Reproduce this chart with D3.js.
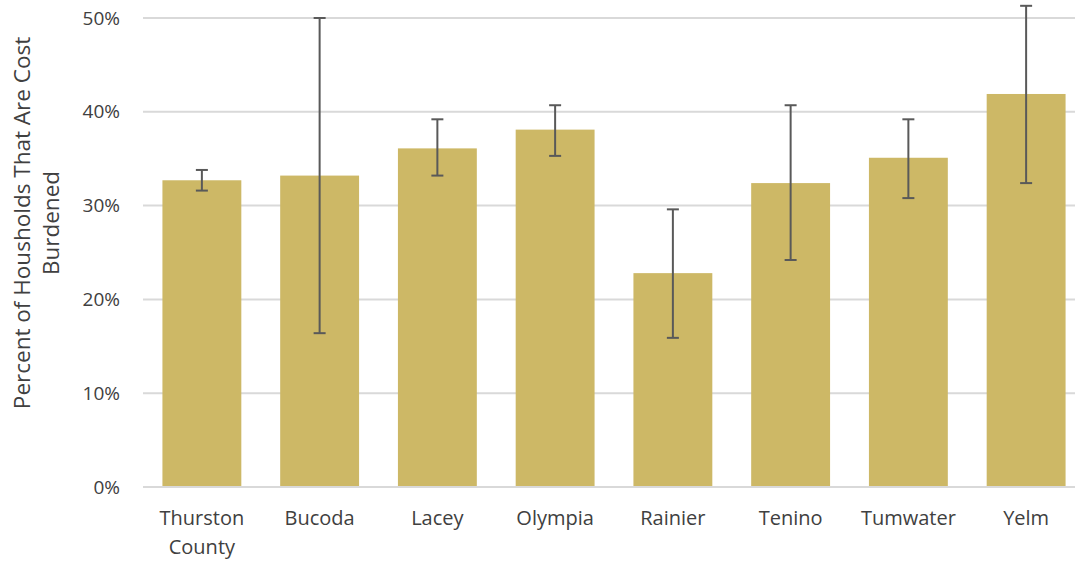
<!DOCTYPE html>
<html><head><meta charset="utf-8">
<script src="https://cdn.jsdelivr.net/npm/d3@7"></script>
<style>
html,body{margin:0;padding:0;background:#fff;}
svg text{font-family:"Open Sans",sans-serif;font-weight:400;fill:#404040;}
</style></head>
<body><svg id="c" width="1075" height="561"></svg>
<script>
const categories = ["Thurston County","Bucoda","Lacey","Olympia","Rainier","Tenino","Tumwater","Yelm"];
const values = [0.327,0.332,0.361,0.381,0.228,0.324,0.351,0.419];
const errLow = [0.316,0.164,0.332,0.353,0.159,0.242,0.308,0.324];
const errHigh = [0.338,0.500,0.392,0.407,0.296,0.407,0.392,0.513];
const yTicks = [0,0.1,0.2,0.3,0.4,0.5];
const yTitle = ["Percent of Housholds That Are Cost","Burdened"];

(function(){
const svg = d3.select("#c");
const pL = 143, pR = 1085, pT = 18, pB = 487;
const x = d3.scaleBand().domain(categories).range([pL,pR]).paddingInner(0.33).paddingOuter(0.165);
const y = d3.scaleLinear().domain([0,0.5]).range([pB,pT]);

// gridlines
svg.append("g").selectAll("line").data(yTicks).join("line")
  .attr("x1",pL).attr("x2",pR)
  .attr("y1",d=>y(d)).attr("y2",d=>y(d))
  .attr("stroke","#d9d9d9").attr("stroke-width",2);

// y tick labels
svg.append("g").selectAll("text").data(yTicks).join("text")
  .attr("x",120).attr("y",d=>y(d)).attr("dy","0.35em")
  .attr("text-anchor","end").attr("font-size",19)
  .text(d=>d3.format(".0%")(d));

// bars
svg.append("g").selectAll("rect").data(categories).join("rect")
  .attr("x",d=>x(d)).attr("width",x.bandwidth())
  .attr("y",(d,i)=>y(values[i])).attr("height",(d,i)=>y(0)-y(values[i]))
  .attr("fill","#cdb866");

// baseline over bars
svg.append("line").attr("x1",pL).attr("x2",pR).attr("y1",y(0)).attr("y2",y(0))
  .attr("stroke","#d9d9d9").attr("stroke-width",2);

// error bars
const eb = svg.append("g").attr("stroke","#595959").attr("stroke-width",2);
categories.forEach((c,i)=>{
  const cx = x(c)+x.bandwidth()/2;
  eb.append("line").attr("x1",cx).attr("x2",cx).attr("y1",y(errLow[i])).attr("y2",y(errHigh[i]));
  eb.append("line").attr("x1",cx-6).attr("x2",cx+6).attr("y1",y(errLow[i])).attr("y2",y(errLow[i]));
  eb.append("line").attr("x1",cx-6).attr("x2",cx+6).attr("y1",y(errHigh[i])).attr("y2",y(errHigh[i]));
});

// x labels
const xl = svg.append("g").selectAll("text").data(categories).join("text")
  .attr("x",d=>x(d)+x.bandwidth()/2).attr("y",525)
  .attr("text-anchor","middle").attr("font-size",20);
xl.each(function(d){
  const words = d.split(" ");
  const t = d3.select(this);
  words.forEach((w,k)=>{
    t.append("tspan").attr("x",x(d)+x.bandwidth()/2).attr("dy",k===0?0:29).text(w);
  });
});

// y title
const yt = svg.append("text").attr("transform","translate(0,223) rotate(-90)")
  .attr("text-anchor","middle").attr("font-size",22.5);
yTitle.forEach((l,k)=>{
  yt.append("tspan").attr("x",0).attr("y",k===0?30:59).text(l);
});
})();
</script></body></html>
